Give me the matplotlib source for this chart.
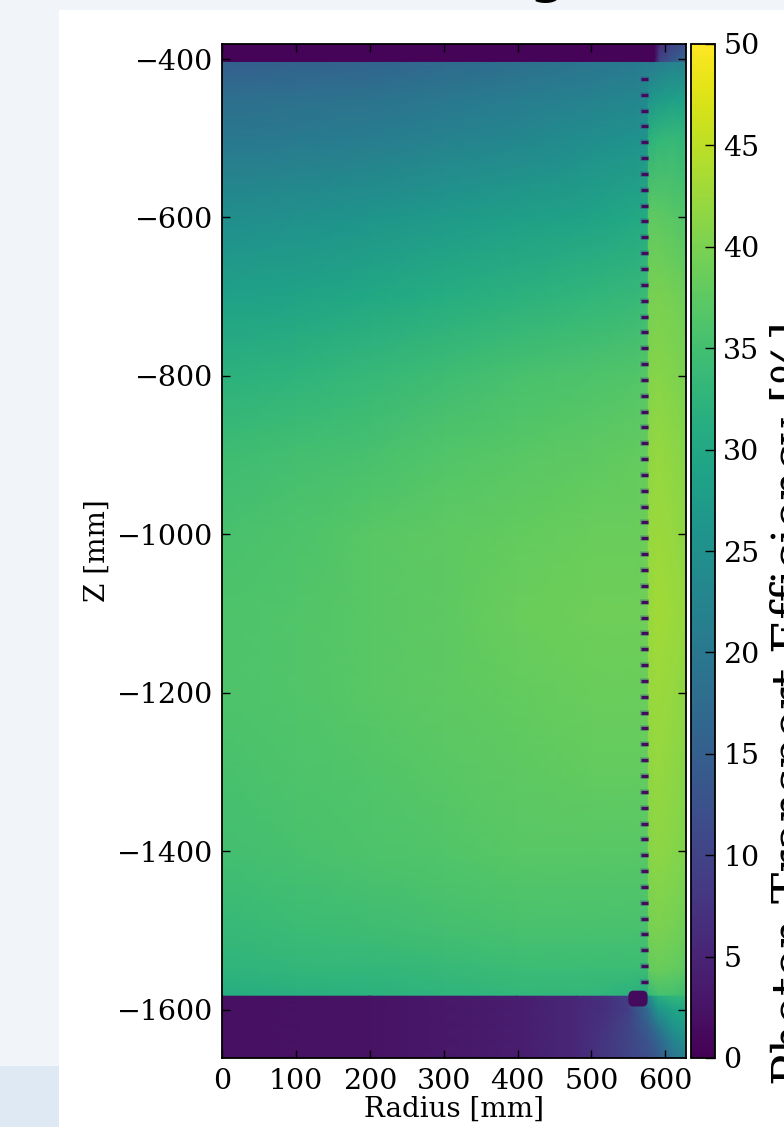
import numpy as np
import matplotlib
matplotlib.use("Agg")
import matplotlib.pyplot as plt
from matplotlib.patches import Rectangle, FancyBboxPatch

plt.rcParams['font.family'] = ['DejaVu Serif']
plt.rcParams['axes.unicode_minus'] = True

# ---------------- data ----------------
# main volume (inside the PMT ring), values in %
main_r = [0, 100, 200, 300, 400, 500, 560, 577]
main_z = [-403, -450, -500, -600, -700, -800, -900, -1000, -1100,
          -1200, -1300, -1400, -1500, -1550, -1583]
main_v = [
    [15.0, 15.5, 16.0, 17.0, 18.0, 19.5, 20.5, 21.0],
    [18.0, 18.5, 19.0, 20.0, 21.0, 22.0, 23.0, 24.0],
    [20.0, 20.5, 21.0, 22.0, 23.0, 24.5, 25.5, 26.0],
    [24.5, 25.0, 26.0, 27.0, 28.0, 29.0, 30.0, 30.5],
    [28.5, 29.0, 30.0, 31.0, 32.0, 33.0, 33.5, 34.0],
    [32.0, 32.5, 33.5, 34.5, 35.5, 36.0, 36.5, 37.0],
    [34.5, 35.0, 35.5, 36.5, 37.0, 37.5, 38.0, 38.0],
    [35.5, 36.0, 37.0, 37.5, 38.0, 38.5, 38.5, 39.0],
    [36.0, 36.5, 37.0, 37.5, 38.5, 39.0, 39.0, 39.0],
    [36.0, 36.5, 37.0, 37.5, 38.0, 38.5, 38.5, 38.5],
    [35.5, 36.0, 36.5, 37.0, 37.5, 38.0, 38.0, 38.0],
    [35.0, 35.5, 36.0, 36.5, 37.0, 37.0, 37.0, 37.0],
    [33.5, 34.0, 34.5, 35.0, 35.5, 35.5, 35.5, 35.5],
    [32.5, 33.0, 33.0, 33.5, 34.0, 34.0, 34.0, 34.0],
    [31.0, 31.5, 32.0, 32.5, 33.0, 33.0, 32.0, 30.0],
]

# outer strip (behind the PMT ring)
strip_r = [577, 590, 610, 628]
strip_z = [-403, -450, -500, -600, -700, -800, -900, -1000, -1100,
           -1200, -1300, -1400, -1500, -1550, -1583]
strip_v = [
    [20.0, 21.0, 22.0, 22.0],
    [26.0, 27.0, 28.0, 28.0],
    [32.0, 33.0, 33.5, 33.0],
    [37.5, 37.5, 37.0, 36.5],
    [39.5, 40.0, 39.5, 39.0],
    [40.5, 41.0, 40.5, 40.0],
    [41.5, 42.0, 41.5, 41.0],
    [42.0, 42.5, 42.0, 41.5],
    [42.0, 43.0, 42.5, 42.0],
    [42.0, 42.5, 42.0, 41.5],
    [41.5, 42.0, 41.5, 41.0],
    [41.0, 41.5, 41.0, 40.5],
    [39.5, 40.0, 39.5, 39.0],
    [38.0, 38.5, 38.0, 37.5],
    [33.0, 35.0, 35.0, 34.0],
]

# top cap (dark band)
top_r = [0, 585, 592, 610, 628]
top_z = [-381, -403]
top_v = [
    [0.5, 0.5, 6.0, 10.0, 12.0],
    [0.5, 0.5, 10.0, 14.0, 17.0],
]

# bottom cap (dark band)
bot_r = [0, 200, 400, 480, 520, 550, 577, 590, 610, 628]
bot_z = [-1583, -1600, -1620, -1640, -1661]
bot_v = [
    [2.0, 2.5, 4.0, 5.5, 7.0, 9.0, 24.0, 31.0, 33.0, 33.0],
    [2.0, 2.5, 4.0, 5.5, 7.0, 9.0, 18.0, 26.0, 29.0, 30.0],
    [2.0, 2.5, 4.0, 5.5, 7.5, 10.0, 15.0, 20.0, 26.0, 28.0],
    [2.0, 2.5, 4.0, 5.5, 8.0, 10.0, 13.0, 16.0, 22.0, 25.0],
    [2.0, 2.5, 4.0, 5.5, 8.0, 10.0, 12.0, 14.0, 19.0, 22.0],
]

# PMT positions (dark dashes)
pmt_r = (567, 577)
pmt_z = [-425, -445, -465, -485, -505, -525, -545, -565, -585, -605,
         -625, -645, -665, -685, -705, -725, -745, -765, -785, -805,
         -825, -845, -865, -885, -905, -925, -945, -965, -985, -1005,
         -1025, -1045, -1065, -1085, -1105, -1125, -1145, -1165, -1185, -1205,
         -1225, -1245, -1265, -1285, -1305, -1325, -1345, -1365, -1385, -1405,
         -1425, -1445, -1465, -1485, -1505, -1525, -1545, -1565]
# bottom PMT block
blob_r = (550, 576)
blob_z = (-1596, -1576)

xlim = (0, 628)
ylim = (-1661, -381)
cbar_ticks = [0, 5, 10, 15, 20, 25, 30, 35, 40, 45, 50]

# ---------------- figure ----------------
W, H = 784, 1127
fig = plt.figure(figsize=(W / 100, H / 100), dpi=100, facecolor='#f1f5fa')
fig.patches.append(Rectangle((59 / W, 0), 1, (H - 10) / H, transform=fig.transFigure,
                             facecolor='white', edgecolor='none', zorder=-10))
fig.patches.append(Rectangle((0, 0), 59 / W, (H - 1066) / H, transform=fig.transFigure,
                             facecolor='#dfe9f4', edgecolor='none', zorder=-10))

ax = fig.add_axes([222 / W, 69 / H, 464 / W, 1014 / H])
cax = fig.add_axes([691 / W, 69 / H, 24 / W, 1014 / H])

kw = dict(shading='gouraud', cmap='viridis', vmin=0, vmax=50, rasterized=True)
m = ax.pcolormesh(np.array(main_r), np.array(main_z), np.array(main_v), **kw)
ax.pcolormesh(np.array(strip_r), np.array(strip_z), np.array(strip_v), **kw)
ax.pcolormesh(np.array(top_r), np.array(top_z), np.array(top_v), **kw)
ax.pcolormesh(np.array(bot_r), np.array(bot_z), np.array(bot_v), **kw)

cm = plt.get_cmap('viridis')
ax.hlines(pmt_z, pmt_r[0] - 1, pmt_r[1] + 1, colors=[cm(0.25)], linewidths=4.0,
          alpha=0.3, capstyle='butt', zorder=3)
ax.hlines(pmt_z, pmt_r[0], pmt_r[1], colors=['#440a5e'], linewidths=2.4,
          capstyle='butt', zorder=4)
ax.add_patch(FancyBboxPatch((blob_r[0], blob_z[0]), blob_r[1] - blob_r[0],
                            blob_z[1] - blob_z[0],
                            boxstyle='round,pad=0,rounding_size=7',
                            facecolor='#440a5e', edgecolor='none', zorder=4))

ax.set_xlim(*xlim)
ax.set_ylim(*ylim)
ax.set_xticks([0, 100, 200, 300, 400, 500, 600])
ax.set_yticks([-400, -600, -800, -1000, -1200, -1400, -1600])
ax.tick_params(direction='in', top=True, right=True, length=6, width=1,
               labelsize=20.5, pad=6, colors='black')
ax.tick_params(axis='x', pad=7)
for s in ax.spines.values():
    s.set_linewidth(1.3)
ax.set_xlabel('Radius [mm]', fontsize=20, labelpad=1)
ax.set_ylabel('Z [mm]', fontsize=20, labelpad=5)

cb = fig.colorbar(m, cax=cax, ticks=cbar_ticks)
cb.outline.set_linewidth(1.3)
cax.tick_params(direction='in', length=7, width=1, labelsize=20.5, pad=6)

# colour-bar label (runs off the right edge in the reference)
lab = fig.text(770 / W, (H - 1085) / H, 'Photon Transport Efficiency [%]',
               rotation=90, ha='left', va='bottom', fontsize=30)
fig.canvas.draw()
ext = lab.get_window_extent()
lab.set_fontsize(30 * 762 / ext.height)

# partially visible title glyph at the top edge
fig.text(548 / W, 1 + 7 / H, 'g', fontsize=36, fontweight='bold', ha='center',
         va='baseline', family='DejaVu Sans')

fig.savefig('out.png', dpi=100, facecolor=fig.get_facecolor())
